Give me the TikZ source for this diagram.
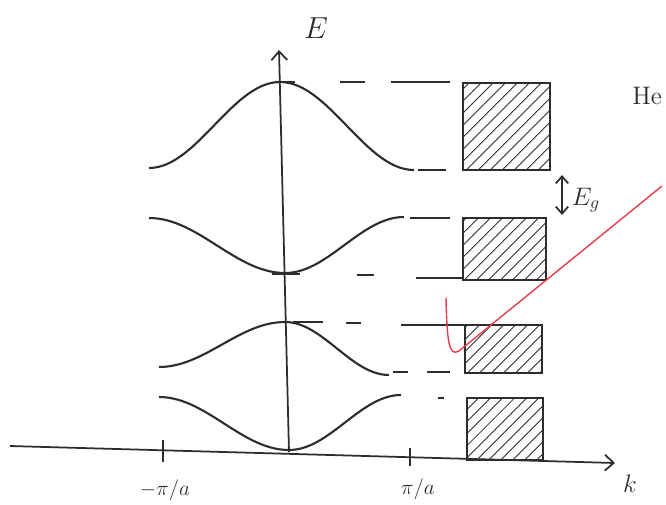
\documentclass[tikz,border=0pt]{standalone}
\usepackage{tikz}
\usetikzlibrary{arrows.meta, positioning, fit, patterns.meta}
\definecolor{pencil}{RGB}{45,45,45}
\definecolor{markred}{RGB}{228,62,80}

\begin{document}
\begin{tikzpicture}[x=0.02cm, y=-0.02cm,
        axis/.style={draw=pencil, line width=1pt},
        band/.style={draw=pencil, line width=1.2pt},
        level/.style={draw=pencil, line width=1pt},
        statebox/.style={draw=pencil, line width=1.4pt, inner sep=0pt,
                    pattern={Lines[angle=45, distance=0.17cm, line width=0.5pt]},
                    pattern color=pencil},
        lbl/.style={text=pencil, inner sep=1pt},
        tip/.style={-{Straight Barb[length=5pt, width=9pt]}}
      ]
        \useasboundingbox (0,0) rectangle (666,504);

        \coordinate (kstart) at (10,446);
        \coordinate (kend)   at (615,463);
        \coordinate (ebase)  at (289,452);
        \coordinate (etop)   at (279,50);
        \draw[axis, tip] (kstart) -- (kend);
        \draw[axis, tip] (ebase) -- (etop);
        \node[lbl, font=\LARGE] (elbl) at (316,28) {$E$};
        \node[lbl, font=\Large] (klbl) at (630,484) {$k$};

        \draw[axis] (163,440) -- (163,462);
        \draw[axis] (410,448) -- (410,466);
        \node[lbl, font=\large] (kmin) at (165,490) {$-\pi/a$};
        \node[lbl, font=\large] (kmax) at (418,489) {$\pi/a$};

        \foreach \xl/\yl/\xm/\ym/\xr/\yr in {149/168/280/82/414/170,
                                             149/218/285/273/404/217,
                                             159/367/285/322/389/375,
                                             159/397/289/450/401/395}
          \draw[band] plot[domain=0:1, samples=30]
              ({\xl+(\xm-\xl)*\x}, {\yl+(\ym-\yl)*(1-cos(180*\x))/2})
            -- plot[domain=0:1, samples=30]
              ({\xm+(\xr-\xm)*\x}, {\ym+(\yr-\ym)*(1-cos(180*\x))/2});

        \node[statebox, fit={(463,83) (550,170)}]  (box1) {};
        \node[statebox, fit={(463,218) (546,280)}] (box2) {};
        \node[statebox, fit={(465,325) (542,373)}] (box3) {};
        \node[statebox, fit={(467,398) (543,460)}] (box4) {};

        \foreach \a/\b/\y in {280/295/82, 340/365/82, 391/450/82, 418/446/170,
                              410/450/218, 272/300/274, 357/374/275, 416/463/278,
                              293/323/322, 346/361/323, 401/467/325,
                              393/408/372, 427/450/372, 438/444/398}
          \draw[level] (\a,\y) -- (\b,\y);

        \coordinate (gaptop) at (562,175);
        \coordinate (gapbot) at (562,215);
        \draw[axis, {Straight Barb[length=4pt, width=7pt]}-{Straight Barb[length=4pt, width=7pt]}]
          (gaptop) -- (gapbot);
        \node[lbl, font=\Large] (eg) at (586,200) {$E_g$};

        \node[lbl, font=\Large, anchor=east] (note) at (664,96) {He};

        \draw[markred, line width=0.8pt] (446,298) .. controls (447,342) and (449,357) .. (459,351)
          -- (662,186);
      \end{tikzpicture}
\end{document}
